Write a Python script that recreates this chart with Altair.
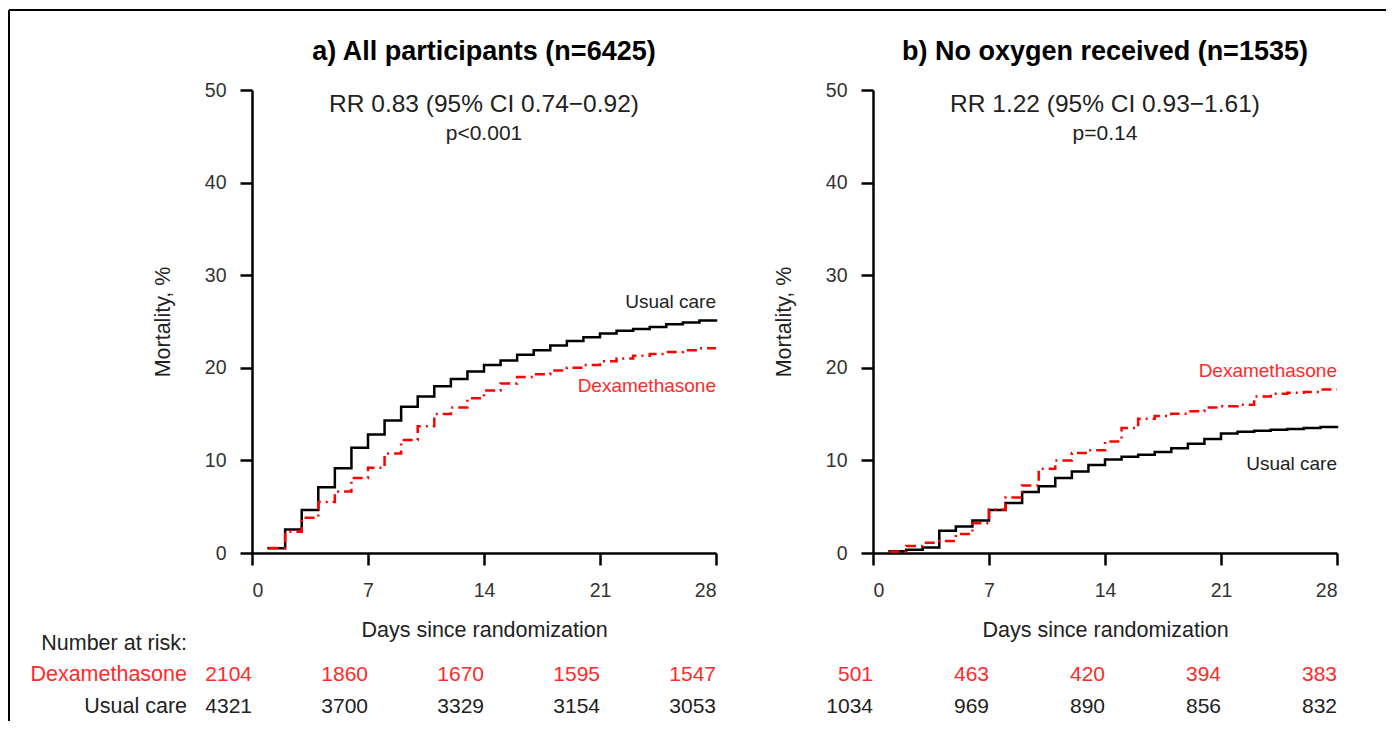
import altair as alt
import pandas as pd

# ---------------- data ----------------
DAYS = list(range(1, 29))
TICKS_X = [0, 7, 14, 21, 28]
TICKS_Y = [0, 10, 20, 30, 40, 50]

# cumulative mortality (%) for day-intervals [1,2), [2,3) ... [27,28)
A_USUAL = [0.5, 2.55, 4.64, 7.09, 9.14, 11.37, 12.8, 14.3, 15.8, 16.9, 18.0, 18.8, 19.6, 20.3,
           20.8, 21.4, 21.9, 22.4, 22.9, 23.3, 23.7, 24.0, 24.2, 24.4, 24.7, 24.9, 25.1]
A_DEX = [0.55, 2.3, 3.8, 5.5, 6.65, 8.1, 9.2, 10.75, 12.2, 13.7, 15.0, 15.7, 16.7, 17.55,
         18.3, 19.0, 19.3, 19.7, 20.0, 20.3, 20.7, 21.0, 21.3, 21.5, 21.7, 21.9, 22.1]
B_USUAL = [0.2, 0.36, 0.6, 2.4, 2.85, 3.5, 4.65, 5.4, 6.6, 7.2, 8.1, 8.8, 9.5, 10.1,
           10.4, 10.6, 10.9, 11.3, 11.8, 12.3, 12.9, 13.1, 13.2, 13.3, 13.4, 13.5, 13.6]
B_DEX = [0.15, 0.75, 1.1, 1.3, 2.05, 3.2, 4.7, 6.0, 7.3, 9.1, 10.0, 10.8, 11.1, 12.05,
         13.5, 14.5, 14.8, 15.05, 15.3, 15.7, 15.85, 16.0, 16.9, 17.2, 17.3, 17.4, 17.65]

A_RISK_DEX = [2104, 1860, 1670, 1595, 1547]
A_RISK_USUAL = [4321, 3700, 3329, 3154, 3053]
B_RISK_DEX = [501, 463, 420, 394, 383]
B_RISK_USUAL = [1034, 969, 890, 856, 832]

TITLES = ["a) All participants (n=6425)", "b) No oxygen received (n=1535)"]
RR_TEXT = ["RR 0.83 (95% CI 0.74\u22120.92)", "RR 1.22 (95% CI 0.93\u22121.61)"]
P_TEXT = ["p<0.001", "p=0.14"]
# label anchor values (mortality %) for the curve labels: [usual care, dexamethasone]
A_LABEL_Y = [27.1, 18.0]
B_LABEL_Y = [9.6, 19.7]

# ---------------- style ----------------
FONT = "Liberation Sans"
RED = "#ff0000"
RED_TXT = "#ff2a2a"
DARK = "#222222"
W, H = 464, 463


def curve_df(vals):
    return pd.DataFrame({"day": DAYS, "mort": vals + [vals[-1]]})


def panel(idx, usual, dex, risk_dex, risk_usual, label_y, with_row_labels):
    x = alt.X("day:Q", scale=alt.Scale(domain=[0, 28], nice=False, zero=False),
              axis=alt.Axis(values=TICKS_X, title="Days since randomization", grid=False))
    y = alt.Y("mort:Q", scale=alt.Scale(domain=[0, 50], nice=False),
              axis=alt.Axis(values=TICKS_Y, title="Mortality, %", grid=False))

    usual_line = alt.Chart(curve_df(usual)).mark_line(
        interpolate="step-after", color="black", strokeWidth=2.5, strokeCap="square"
    ).encode(x=x, y=y)
    dex_line = alt.Chart(curve_df(dex)).mark_line(
        interpolate="step-after", color=RED, strokeWidth=2.5, strokeDash=[10, 5, 2, 5]
    ).encode(x=x, y=y)

    lab_df = pd.DataFrame({"day": [28, 28], "mort": label_y,
                           "label": ["Usual care", "Dexamethasone"],
                           "col": [DARK, RED_TXT]})
    labels = alt.Chart(lab_df).mark_text(align="right", baseline="middle", fontSize=19,
                                         font=FONT).encode(
        x="day:Q", y="mort:Q", text="label:N", color=alt.Color("col:N", scale=None))

    title = alt.Chart(pd.DataFrame({"t": [TITLES[idx]]})).mark_text(
        fontSize=27, fontWeight="bold", font=FONT, color="black", baseline="middle"
    ).encode(x=alt.value(W / 2), y=alt.value(-38), text="t:N")
    rr = alt.Chart(pd.DataFrame({"t": [RR_TEXT[idx]]})).mark_text(
        fontSize=24.5, font=FONT, color=DARK, baseline="middle"
    ).encode(x=alt.value(W / 2), y=alt.value(15), text="t:N")
    pv = alt.Chart(pd.DataFrame({"t": [P_TEXT[idx]]})).mark_text(
        fontSize=21, font=FONT, color=DARK, baseline="middle"
    ).encode(x=alt.value(W / 2), y=alt.value(44), text="t:N")

    rd = pd.DataFrame({"day": TICKS_X, "n": risk_dex})
    ru = pd.DataFrame({"day": TICKS_X, "n": risk_usual})
    risk_d = alt.Chart(rd).mark_text(align="right", baseline="middle", fontSize=21, font=FONT,
                                     color=RED_TXT).encode(x="day:Q", y=alt.value(585), text="n:Q")
    risk_u = alt.Chart(ru).mark_text(align="right", baseline="middle", fontSize=21, font=FONT,
                                     color=DARK).encode(x="day:Q", y=alt.value(617), text="n:Q")

    layers = [usual_line, dex_line, labels, title, rr, pv, risk_d, risk_u]

    if with_row_labels:
        def row_label(txt, ypix, col):
            return alt.Chart(pd.DataFrame({"t": [txt]})).mark_text(
                align="right", baseline="middle", fontSize=21.5, font=FONT, color=col
            ).encode(x=alt.value(-65), y=alt.value(ypix), text="t:N")
        layers += [row_label("Number at risk:", 554, DARK),
                   row_label("Dexamethasone", 585, RED_TXT),
                   row_label("Usual care", 617, DARK)]
        frame = alt.Chart(pd.DataFrame({"a": [0]}))
        layers += [
            frame.mark_rule(color="black", strokeWidth=2).encode(
                x=alt.value(-243), y=alt.value(-80), y2=alt.value(631)),
            frame.mark_rule(color="black", strokeWidth=2).encode(
                x=alt.value(-243), x2=alt.value(1134), y=alt.value(-80)),
        ]

    return alt.layer(*layers).properties(width=W, height=H)


left = panel(0, A_USUAL, A_DEX, A_RISK_DEX, A_RISK_USUAL, A_LABEL_Y, True)
right = panel(1, B_USUAL, B_DEX, B_RISK_DEX, B_RISK_USUAL, B_LABEL_Y, False)

chart = alt.hconcat(left, right, spacing=157, bounds="flush").properties(
    padding={"left": 0, "top": 1, "right": 0, "bottom": 0}
).configure_view(stroke=None).configure_axis(
    domainColor="black", domainWidth=2.5, tickColor="black", tickWidth=2.5, tickSize=12,
    labelFont=FONT, labelFontSize=19.5, labelColor="#333333", labelPadding=14,
    titleFont=FONT, titleFontSize=21.5, titleFontWeight="normal", titleColor=DARK,
).configure_axisX(titlePadding=20, labelPadding=16).configure_axisY(titlePadding=30)

chart.save("out.html", embed_options={"renderer": "svg", "actions": False})
